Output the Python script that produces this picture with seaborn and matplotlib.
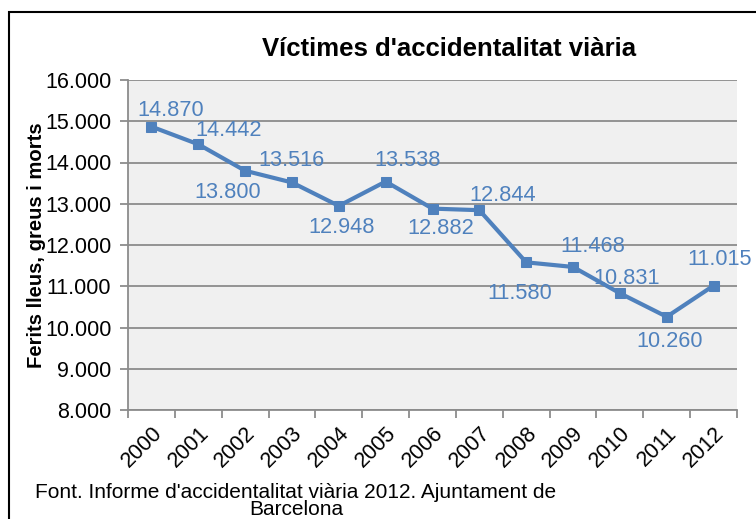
import matplotlib
matplotlib.use("Agg")
import matplotlib.pyplot as plt
import seaborn as sns
import pandas as pd
from matplotlib.patches import Rectangle
from matplotlib.ticker import FixedLocator, FuncFormatter

years = ["2000", "2001", "2002", "2003", "2004", "2005", "2006",
         "2007", "2008", "2009", "2010", "2011", "2012"]
victims = [14870, 14442, 13800, 13516, 12948, 13538, 12882,
           12844, 11580, 11468, 10831, 10260, 11015]
# label offsets in pixels (dx, dy), as placed in the original chart
label_offsets = [(19, 16), (30, 14), (-17, -22), (0, 22), (3, -22), (22, 21), (8, -20),
                 (23, 15), (-6, -31), (20, 20), (7, 15), (3, -25), (6, 26)]

sns.set_style("white")
plt.rcParams["font.family"] = ["Liberation Sans", "DejaVu Sans"]
plt.rcParams["text.color"] = "black"
plt.rcParams["xtick.color"] = "black"
plt.rcParams["ytick.color"] = "black"
plt.rcParams["axes.labelcolor"] = "black"

blue = "#4F81BD"
grid_col = "#8C8C8C"

df = pd.DataFrame({"pos": range(len(years)), "value": victims})

fig = plt.figure(figsize=(7.56, 5.19), dpi=100)
ax = fig.add_axes([128 / 756, 1 - 410 / 519, 609 / 756, 330 / 519])
ax.set_facecolor("#F0F0F0")

sns.lineplot(data=df, x="pos", y="value", ax=ax, color=blue, linewidth=3,
             marker="s", markersize=7, markeredgecolor=blue, zorder=3)

for i, v in enumerate(victims):
    dx, dy = label_offsets[i]
    ax.annotate(f"{v:,}".replace(",", "."), (i, v), xytext=(dx * 0.72, dy * 0.72),
                textcoords="offset points", ha="center", va="center",
                color=blue, fontsize=15.7, zorder=4)

ax.set_xlim(-0.5, len(years) - 0.5)
ax.set_ylim(8000, 16000)
ax.set_yticks(range(8000, 16001, 1000))
ax.yaxis.set_major_formatter(FuncFormatter(lambda v, p: f"{int(v):,}".replace(",", ".")))
ax.grid(axis="y", color=grid_col, linewidth=1.3)
ax.set_axisbelow(True)

ax.set_xticks(range(len(years)))
ax.set_xticklabels(years, rotation=45, ha="right", va="top", rotation_mode="anchor")
ax.xaxis.set_minor_locator(FixedLocator([i - 0.5 for i in range(len(years) + 1)]))
ax.tick_params(axis="x", which="major", length=0, pad=9, labelsize=15.5, labelcolor="black")
ax.tick_params(axis="x", which="minor", length=6, color=grid_col, width=1.3, direction="out")
ax.tick_params(axis="y", length=6, color=grid_col, width=1.3, direction="out", labelsize=15.5,
               pad=6, labelcolor="black")
ax.xaxis.set_ticks_position("bottom")
ax.yaxis.set_ticks_position("left")

for s in ["top", "right"]:
    ax.spines[s].set_visible(False)
for s in ["left", "bottom"]:
    ax.spines[s].set_color(grid_col)
    ax.spines[s].set_linewidth(1.3)

ax.set_xlabel("")
ax.set_ylabel("Ferits lleus, greus i morts", fontsize=14.6, fontweight="bold", labelpad=-1)

fig.text(449 / 756, 1 - 49 / 519, "Víctimes d'accidentalitat viària", ha="center", va="center",
         fontsize=18.5, fontweight="bold")
fig.text(296 / 756, 1 - 501 / 519, "Font. Informe d'accidentalitat viària 2012. Ajuntament de\nBarcelona",
         ha="center", va="center", fontsize=15, linespacing=0.92)

fig.patches.append(Rectangle((9 / 756, -0.1), 1.1, 1.1 - 12 / 519, transform=fig.transFigure,
                             fill=False, edgecolor="black", linewidth=1.5))

fig.savefig("out.png", dpi=100)
